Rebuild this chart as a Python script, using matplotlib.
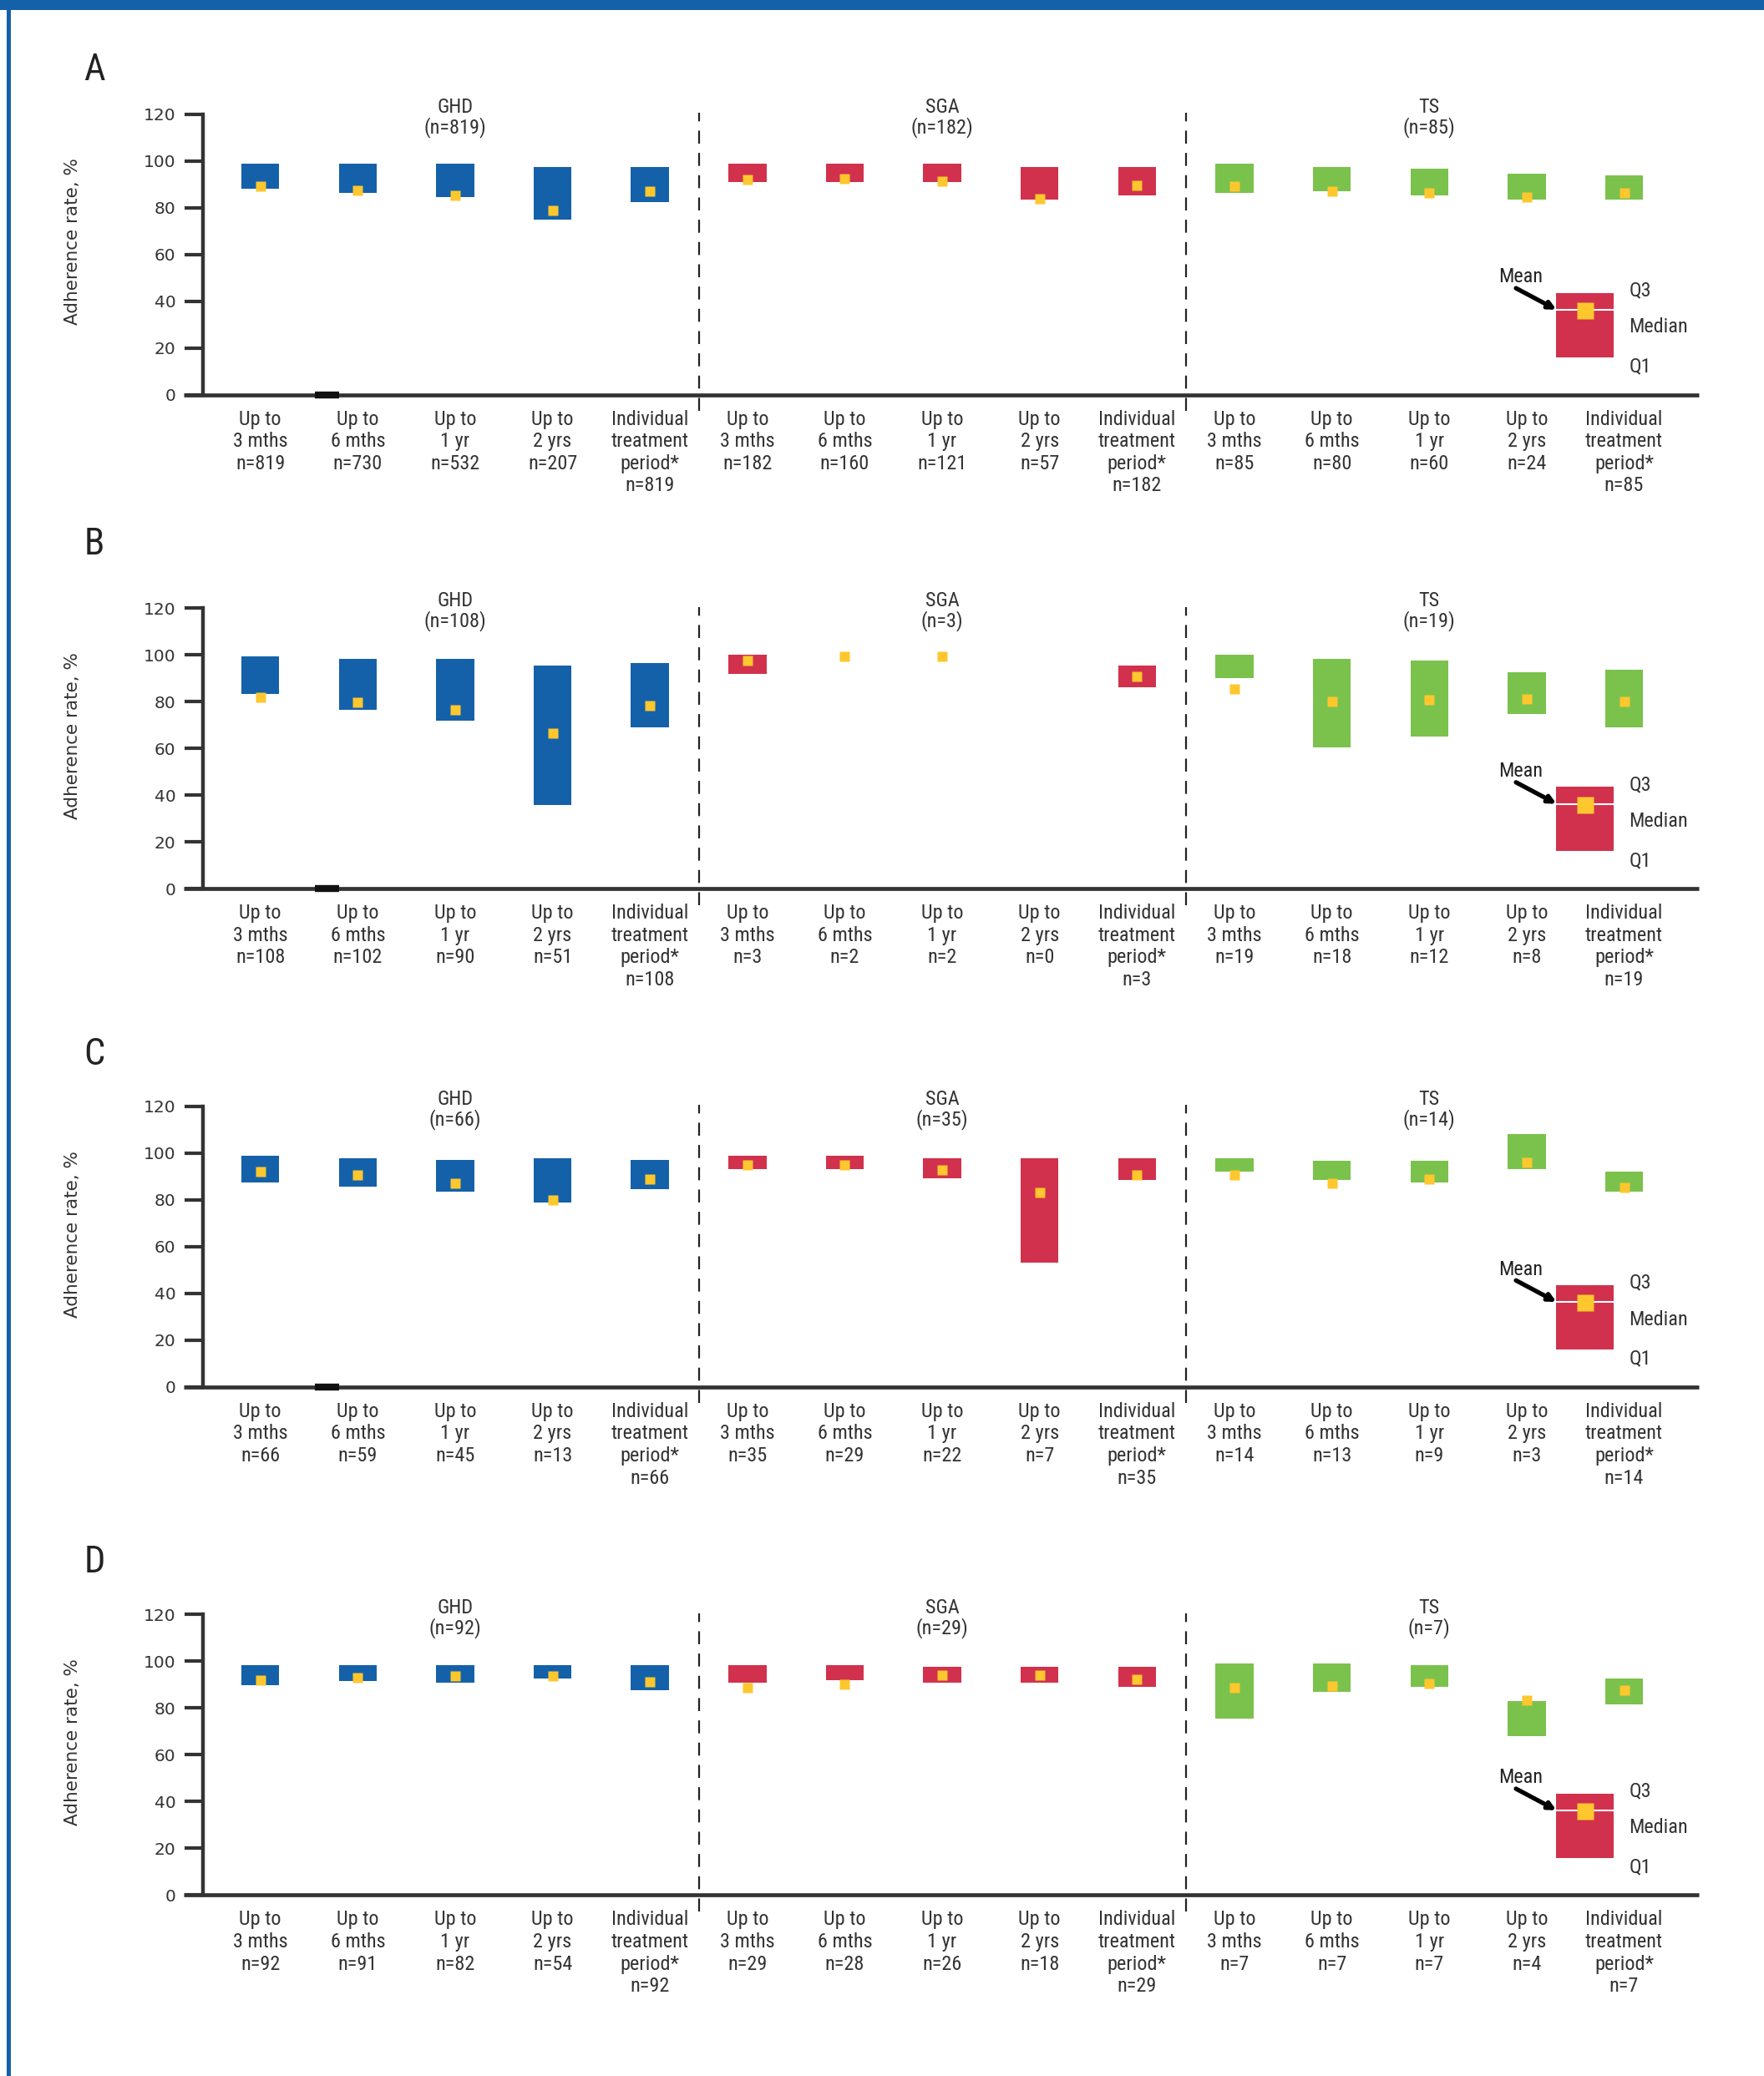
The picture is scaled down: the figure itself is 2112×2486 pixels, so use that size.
import numpy as np
import matplotlib
matplotlib.use("Agg")
import matplotlib.pyplot as plt
from matplotlib import font_manager
from matplotlib.patches import Rectangle

# ---------------------------------------------------------------- data
periods = ["Up to\n3 mths", "Up to\n6 mths", "Up to\n1 yr", "Up to\n2 yrs",
           "Individual\ntreatment\nperiod*"]
groups = ["GHD", "SGA", "TS"]
panel_letters = ["A", "B", "C", "D"]

# group sizes shown in the headers
n_group_A = [819, 182, 85]
n_group_B = [108, 3, 19]
n_group_C = [66, 35, 14]
n_group_D = [92, 29, 7]

# patients per period (GHD x5, SGA x5, TS x5)
n_A = [819, 730, 532, 207, 819, 182, 160, 121, 57, 182, 85, 80, 60, 24, 85]
n_B = [108, 102, 90, 51, 108, 3, 2, 2, 0, 3, 19, 18, 12, 8, 19]
n_C = [66, 59, 45, 13, 66, 35, 29, 22, 7, 35, 14, 13, 9, 3, 14]
n_D = [92, 91, 82, 54, 92, 29, 28, 26, 18, 29, 7, 7, 7, 4, 7]

nan = np.nan
# adherence rate, %: first quartile, third quartile and mean
q1_A = [88.0, 86.1, 84.3, 74.8, 82.3, 90.8, 90.8, 90.8, 83.3, 85.1, 86.1, 87.1, 85.1, 83.3, 83.3]
q3_A = [98.6, 98.6, 98.6, 97.4, 97.4, 98.6, 98.6, 98.6, 97.4, 97.4, 98.6, 97.4, 96.6, 94.6, 93.6]
mean_A = [89.0, 87.5, 85.3, 78.9, 87.1, 91.9, 92.4, 91.4, 83.7, 89.5, 89.1, 87.1, 86.1, 84.6, 86.1]

q1_B = [83.2, 76.5, 71.8, 35.7, 69.0, 91.7, nan, nan, nan, 86.3, 89.9, 60.3, 65.1, 74.6, 69.0]
q3_B = [99.2, 98.4, 98.4, 95.4, 96.4, 100.2, nan, nan, nan, 95.4, 100.2, 98.4, 97.5, 92.7, 93.6]
mean_B = [81.7, 79.8, 76.5, 66.4, 78.3, 97.5, 99.4, 99.4, nan, 90.9, 85.6, 80.2, 80.8, 81.3, 80.2]

q1_C = [87.3, 85.5, 83.5, 78.9, 84.5, 93.0, 93.0, 89.2, 53.1, 88.3, 92.0, 88.3, 87.3, 93.0, 83.5]
q3_C = [98.7, 97.9, 96.9, 97.9, 96.9, 98.7, 98.7, 97.9, 97.9, 97.9, 97.9, 96.8, 96.8, 108.2, 92.0]
mean_C = [92.1, 90.7, 87.0, 79.9, 88.9, 94.9, 94.9, 92.7, 83.1, 90.7, 90.7, 87.0, 88.9, 96.1, 85.1]

q1_D = [89.8, 91.6, 90.8, 92.7, 87.8, 90.8, 91.9, 90.8, 90.8, 89.0, 75.6, 87.0, 89.0, 68.1, 81.4]
q3_D = [98.4, 98.4, 98.4, 98.4, 98.4, 98.4, 98.4, 97.5, 97.5, 97.5, 99.2, 99.2, 98.4, 82.9, 92.7]
mean_D = [92.0, 93.1, 93.7, 93.7, 91.3, 88.6, 90.1, 93.9, 93.9, 92.4, 88.6, 89.5, 90.4, 83.2, 87.5]

# key box (illustrative values)
key_q1, key_median, key_q3, key_mean = 16.0, 36.3, 43.5, 35.9

yticks = [0, 20, 40, 60, 80, 100, 120]

# ---------------------------------------------------------------- style
BLUE = "#1561a9"
RED = "#d1314c"
GREEN = "#7bc24c"
YELLOW = "#fec72e"
INK = "#333333"
group_colors = [BLUE, RED, GREEN]

available = {f.name for f in font_manager.fontManager.ttflist}


def pick(cands):
    for c in cands:
        if c in available:
            return c
    return "DejaVu Sans"


NARROW = pick(["Liberation Sans Narrow", "DejaVu Sans Condensed",
               "Roboto Condensed", "Liberation Sans"])
ROUND = "DejaVu Sans"

W, H = 2112, 2486
fig = plt.figure(figsize=(W / 100, H / 100), dpi=100)
fig.patch.set_facecolor("white")

# page frame
fig.add_artist(Rectangle((0, 1 - 12 / H), 1, 12 / H, transform=fig.transFigure,
                         color=BLUE, lw=0, zorder=0))
fig.add_artist(Rectangle((8 / W, 0), 5 / W, 1, transform=fig.transFigure,
                         color=BLUE, lw=0, zorder=0))

X0_PX, STEP_PX = 311.7, 116.63
XMIN, XMAX = -0.586, 14.765
AX_H = 336
zero_px = [472.5, 1064.2, 1660.7, 2269.4]

panels = [
    (n_group_A, n_A, q1_A, q3_A, mean_A, True),
    (n_group_B, n_B, q1_B, q3_B, mean_B, True),
    (n_group_C, n_C, q1_C, q3_C, mean_C, True),
    (n_group_D, n_D, q1_D, q3_D, mean_D, False),
]

x = np.arange(15)
bar_colors = [c for c in group_colors for _ in periods]

for k, (ng, nn, q1, q3, mn, stub) in enumerate(panels):
    left = (X0_PX + XMIN * STEP_PX) / W
    width = (XMAX - XMIN) * STEP_PX / W
    bottom = (H - zero_px[k]) / H
    ax = fig.add_axes([left, bottom, width, AX_H / H])
    ax.set_xlim(XMIN, XMAX)
    ax.set_ylim(0, 120)
    ax.patch.set_alpha(0)
    for s in ("top", "right", "bottom"):
        ax.spines[s].set_visible(False)
    ax.spines["left"].set_linewidth(3.2)
    ax.spines["left"].set_color(INK)

    # x axis line running past the y spine
    ax.plot([-0.789, XMAX], [0, 0], color=INK, lw=3.4, clip_on=False,
            solid_capstyle="butt", zorder=4)
    if stub:
        ax.plot([0.56, 0.81], [0, 0], color="#111111", lw=6, clip_on=False,
                solid_capstyle="butt", zorder=4)

    ax.set_yticks(yticks)
    ax.set_yticklabels([str(t) for t in yticks], fontfamily=ROUND)
    ax.tick_params(axis="y", direction="out", length=15.5, width=3,
                   color=INK, labelsize=14.5, pad=8.0, labelcolor=INK)

    labels = []
    for g in range(3):
        for p in range(5):
            labels.append(f"{periods[p]}\nn={nn[g * 5 + p]}")
    ax.set_xticks(x)
    ax.set_xticklabels(labels, fontfamily=NARROW, fontsize=17.5,
                       linespacing=1.2, color=INK)
    ax.tick_params(axis="x", length=0, pad=13)

    # interquartile boxes
    q1a = np.array(q1, dtype=float)
    q3a = np.array(q3, dtype=float)
    ok = ~np.isnan(q1a)
    ax.bar(x[ok], (q3a - q1a)[ok], bottom=q1a[ok], width=0.39,
           color=np.array(bar_colors)[ok], lw=0, zorder=2)
    mna = np.array(mn, dtype=float)
    okm = ~np.isnan(mna)
    ax.plot(x[okm], mna[okm], ls="none", marker="s", ms=8.5, mfc=YELLOW,
            mec="none", zorder=3)

    # group separators
    for xs in (4.5, 9.5):
        ax.plot([xs, xs], [-7, 120.5], color="#222222", lw=1.6,
                dashes=(7, 5), clip_on=False, zorder=1)

    # group headers
    for g in range(3):
        ax.text(2 + 5 * g, 118.5, f"{groups[g]}\n(n={ng[g]})", ha="center",
                va="center", fontfamily=NARROW, fontsize=17.5,
                linespacing=1.0, color=INK, clip_on=False)

    # key
    kx, kw = 13.6, 0.59
    ax.bar([kx], [key_q3 - key_q1], bottom=[key_q1], width=kw, color=RED,
           lw=0, zorder=2)
    ax.plot([kx - kw / 2, kx + kw / 2], [key_median, key_median],
            color="white", lw=1.5, zorder=2.5)
    ax.plot([kx], [key_mean], ls="none", marker="s", ms=15, mfc=YELLOW,
            mec="none", zorder=3)
    for txt, yy in (("Q3", 44.5), ("Median", 28.8), ("Q1", 12.0)):
        ax.text(14.05, yy, txt, ha="left", va="center", fontfamily=NARROW,
                fontsize=17.5, color=INK)
    ax.text(12.94, 50.2, "Mean", ha="center", va="center", fontfamily=NARROW,
            fontsize=17.5, color="#222222")
    ax.annotate("", xy=(kx - kw / 2, key_median), xytext=(12.89, 45.5),
                arrowprops=dict(arrowstyle="-|>", color="black", lw=3.8,
                                mutation_scale=13, shrinkA=0, shrinkB=0),
                zorder=3)

    # y-axis title and panel letter
    yc = zero_px[k] - 0.545 * AX_H
    fig.text(87 / W, 1 - yc / H, "Adherence rate, %", rotation=90,
             ha="center", va="center", fontfamily=ROUND, fontsize=15.5,
             color=INK)
    letter_y = [84, 652, 1263, 1871][k]
    fig.text(113 / W, 1 - letter_y / H, panel_letters[k], ha="center",
             va="center", fontfamily=NARROW, fontsize=32, color="#222222")

fig.savefig("out.png", dpi=100, facecolor="white")
